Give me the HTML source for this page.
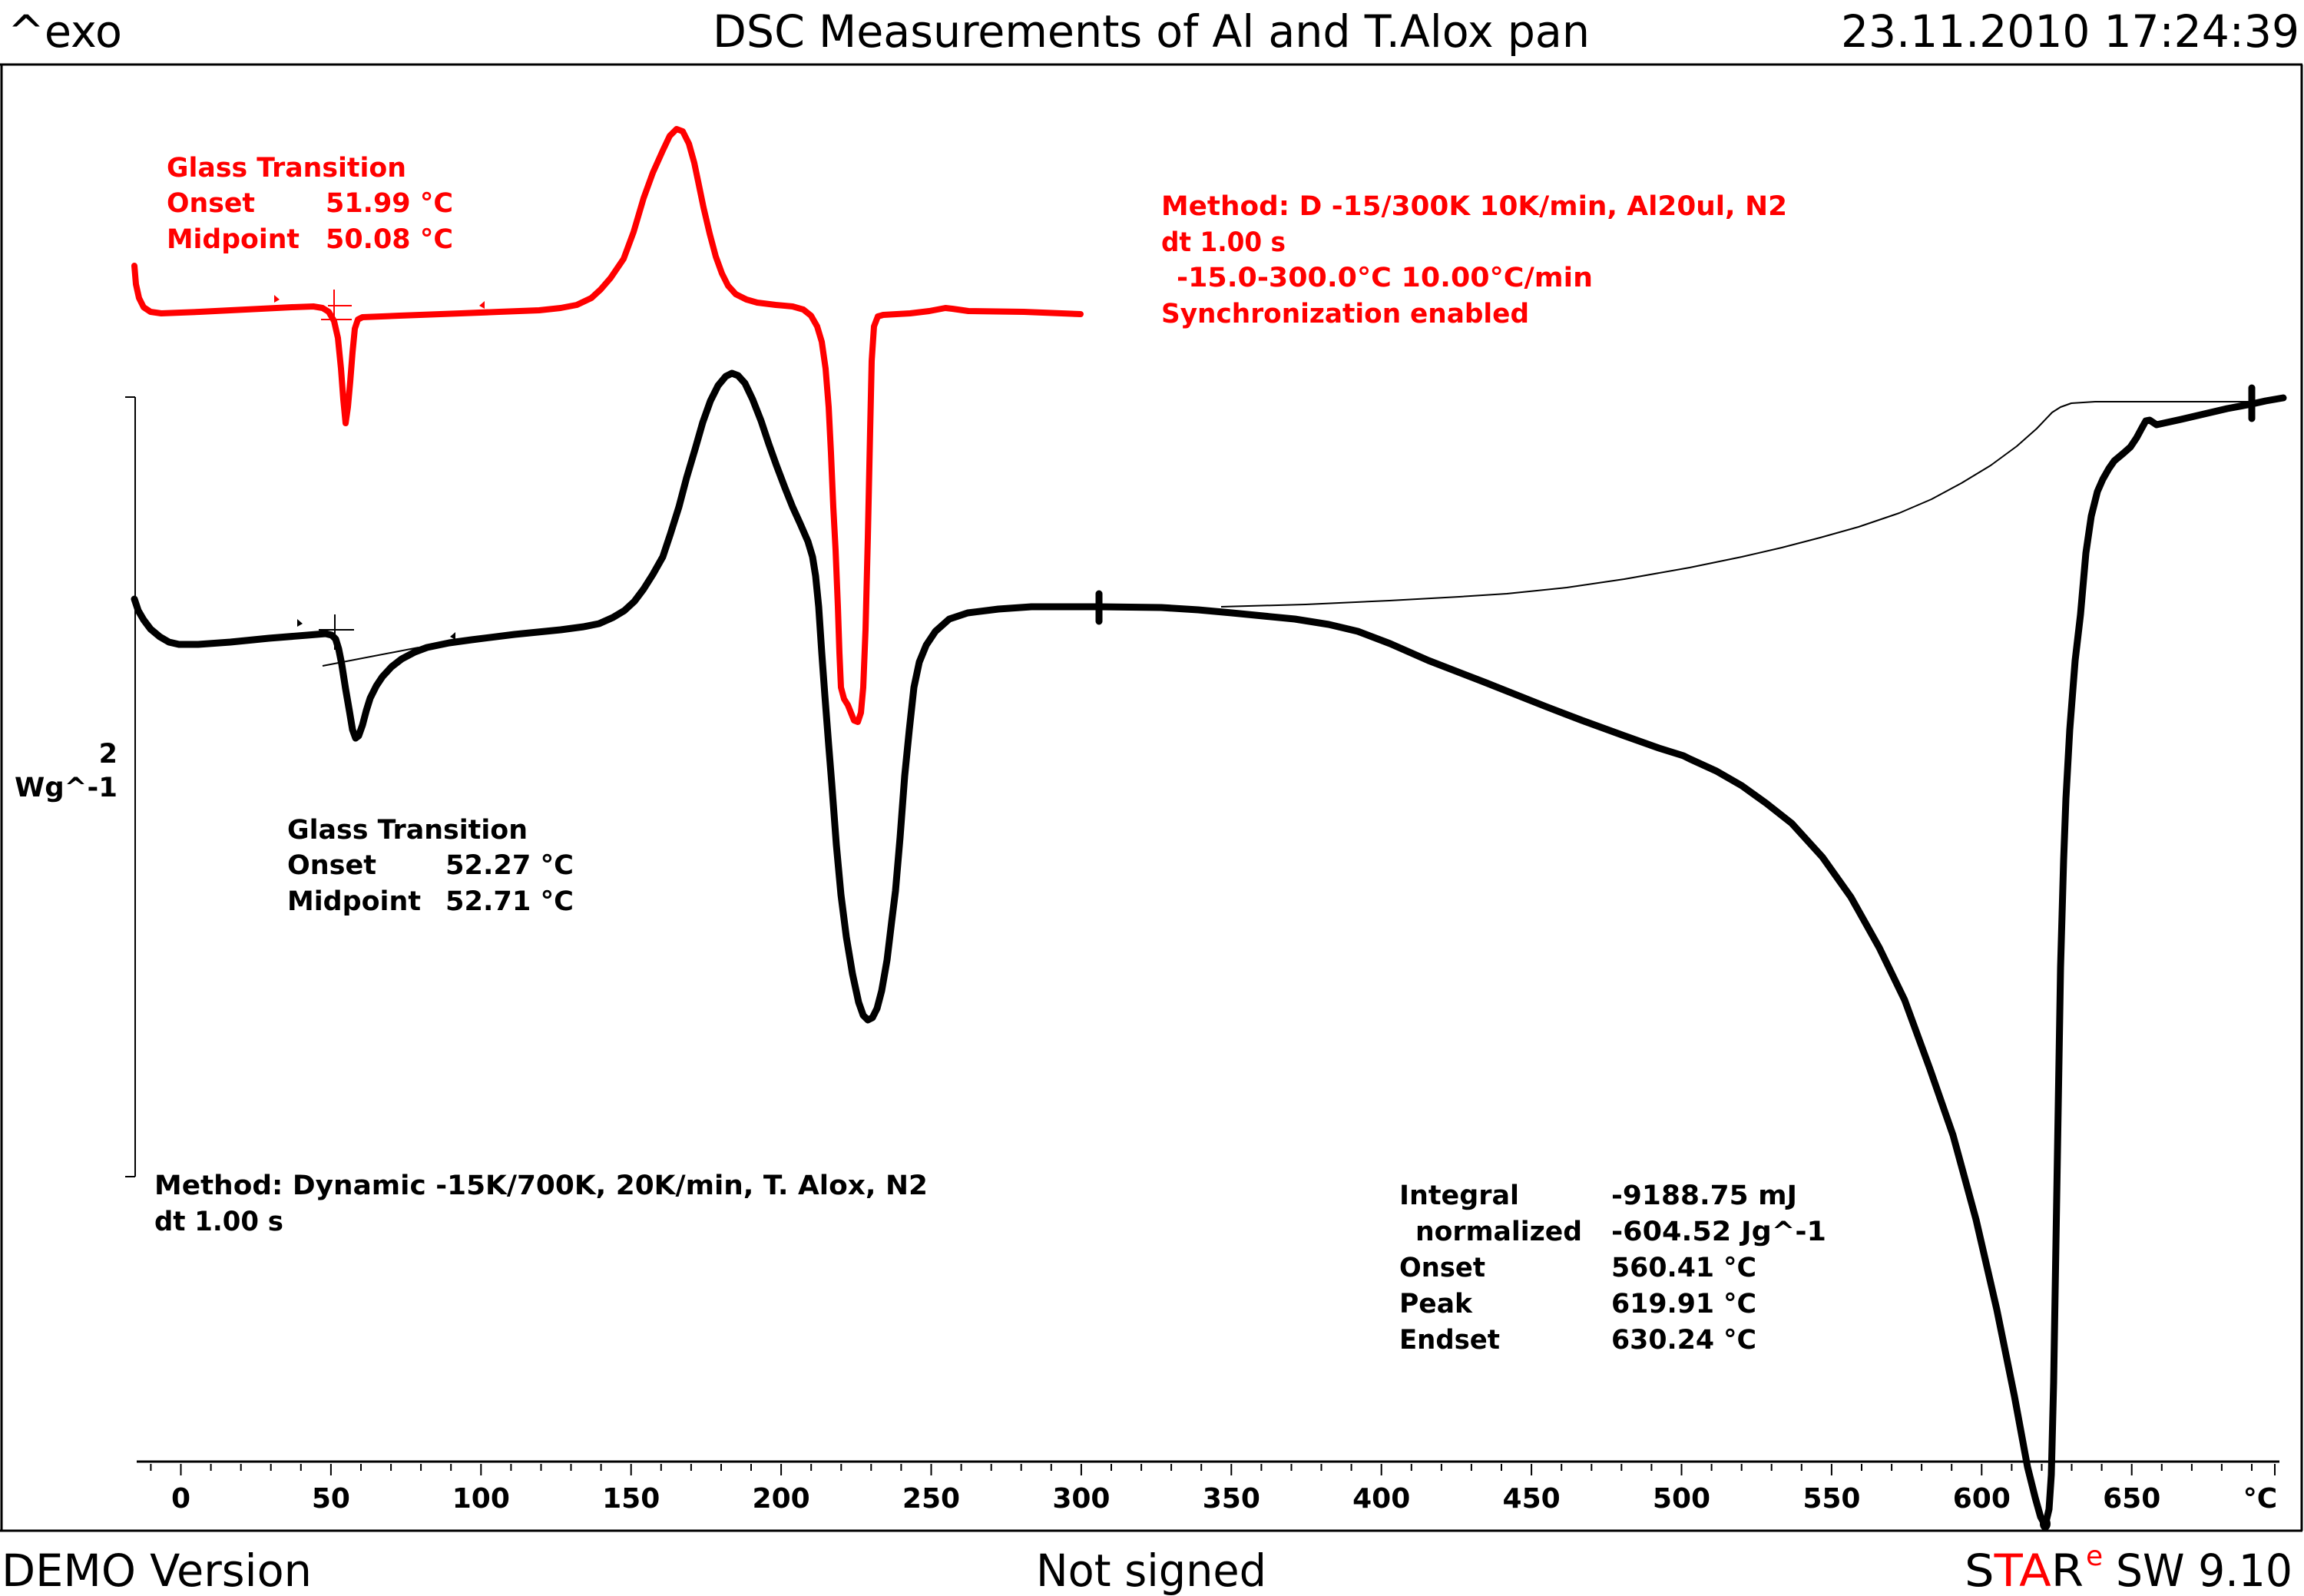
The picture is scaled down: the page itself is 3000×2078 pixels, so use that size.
<!DOCTYPE html>
<html>
<head>
<meta charset="utf-8">
<style>
html,body{margin:0;padding:0;background:#fff;}
svg{display:block;}
text{font-family:"DejaVu Sans","Liberation Sans",sans-serif;}
.b{font-weight:bold;font-size:35px;}
.r{fill:#ff0000;}
.k{fill:#000;}
.t{font-weight:bold;font-size:36px;text-anchor:middle;}
.h{font-size:58px;}
</style>
</head>
<body>
<svg width="3000" height="2078" viewBox="0 0 3000 2078" xmlns="http://www.w3.org/2000/svg">
<rect x="0" y="0" width="3000" height="2078" fill="#fff"/>

<!-- header -->
<text class="h" x="10" y="61" textLength="149" lengthAdjust="spacingAndGlyphs">^exo</text>
<text class="h" x="928" y="61" textLength="1142" lengthAdjust="spacingAndGlyphs">DSC Measurements of Al and T.Alox pan</text>
<text class="h" x="2397" y="61" textLength="597" lengthAdjust="spacingAndGlyphs">23.11.2010 17:24:39</text>

<!-- frame -->
<path d="M0,84 H2998 M2,84 V1993 M2997,84 V1993 M0,1993 H2998" stroke="#000" stroke-width="3" fill="none"/>

<!-- scale bar -->
<path d="M176,517 V1532 M163,517 H176 M163,1532 H176" stroke="#000" stroke-width="2" fill="none"/>
<text class="b" x="153" y="993" text-anchor="end">2</text>
<text class="b" x="19" y="1037" textLength="134" lengthAdjust="spacingAndGlyphs">Wg^-1</text>

<!-- x axis -->
<path d="M178,1903 H2968" stroke="#000" stroke-width="3" fill="none"/>
<path stroke="#000" stroke-width="2" fill="none" d="
M196.4,1906V1915 M235.5,1906V1921 M274.6,1906V1915 M313.7,1906V1915 M352.7,1906V1915 M391.8,1906V1915
M430.9,1906V1921 M470.0,1906V1915 M509.1,1906V1915 M548.1,1906V1915 M587.2,1906V1915
M626.3,1906V1921 M665.4,1906V1915 M704.5,1906V1915 M743.5,1906V1915 M782.6,1906V1915
M821.7,1906V1921 M860.8,1906V1915 M899.9,1906V1915 M939.0,1906V1915 M978.0,1906V1915
M1017.1,1906V1921 M1056.2,1906V1915 M1095.3,1906V1915 M1134.3,1906V1915 M1173.4,1906V1915
M1212.5,1906V1921 M1251.6,1906V1915 M1290.7,1906V1915 M1329.7,1906V1915 M1368.8,1906V1915
M1407.9,1906V1921 M1447.0,1906V1915 M1486.1,1906V1915 M1525.1,1906V1915 M1564.2,1906V1915
M1603.3,1906V1921 M1642.4,1906V1915 M1681.5,1906V1915 M1720.5,1906V1915 M1759.6,1906V1915
M1798.7,1906V1921 M1837.8,1906V1915 M1876.9,1906V1915 M1915.9,1906V1915 M1955.0,1906V1915
M1994.1,1906V1921 M2033.2,1906V1915 M2072.3,1906V1915 M2111.3,1906V1915 M2150.4,1906V1915
M2189.5,1906V1921 M2228.6,1906V1915 M2267.7,1906V1915 M2306.7,1906V1915 M2345.8,1906V1915
M2384.9,1906V1921 M2424.0,1906V1915 M2463.1,1906V1915 M2502.1,1906V1915 M2541.2,1906V1915
M2580.3,1906V1921 M2619.4,1906V1915 M2658.5,1906V1915 M2697.5,1906V1915 M2736.6,1906V1915
M2775.7,1906V1921 M2814.8,1906V1915 M2853.9,1906V1915 M2892.9,1906V1915 M2932.0,1906V1915
M2962,1906V1921"/>
<text class="t" x="235.5" y="1963">0</text>
<text class="t" x="430.9" y="1963">50</text>
<text class="t" x="626.3" y="1963">100</text>
<text class="t" x="821.7" y="1963">150</text>
<text class="t" x="1017.1" y="1963">200</text>
<text class="t" x="1212.5" y="1963">250</text>
<text class="t" x="1407.9" y="1963">300</text>
<text class="t" x="1603.3" y="1963">350</text>
<text class="t" x="1798.7" y="1963">400</text>
<text class="t" x="1994.1" y="1963">450</text>
<text class="t" x="2189.5" y="1963">500</text>
<text class="t" x="2384.9" y="1963">550</text>
<text class="t" x="2580.3" y="1963">600</text>
<text class="t" x="2775.7" y="1963">650</text>
<text class="t" x="2943" y="1963">°C</text>

<!-- thin baseline for integral -->
<polyline fill="none" stroke="#000" stroke-width="2" stroke-linejoin="round" points="1590,790 1700,787 1809,782 1900,777 1962,773 2040,765 2115,754 2200,739 2268,725 2320,713 2370,700 2420,686 2473,668 2515,650 2554,629 2592,606 2626,581 2652,558 2672,537 2683,530 2697,525 2728,523 2932,523"/>

<!-- black glass transition helper lines -->
<path d="M420,867 L545,843 M436,800 V846 M415,820 H461" stroke="#000" stroke-width="2" fill="none"/>
<polygon points="387,806 394,812 387,816" fill="#000"/>
<polygon points="593,823 586,829 593,833" fill="#000"/>

<!-- black curve -->
<polyline fill="none" stroke="#000" stroke-width="9" stroke-linejoin="round" stroke-linecap="round" points="175,780 180,795 187,807 196,819 208,829 220,836 233,839 258,839 300,836 350,831 400,827 424,825 432,827 437,832 441,845 445,865 450,897 455,926 459,950 463,961 467,958 472,944 477,925 482,909 490,893 498,881 510,868 523,858 540,849 556,843 585,837 614,833 670,826 730,820 760,816 780,812 798,804 813,795 826,783 838,767 850,748 863,725 873,695 884,660 894,622 905,585 915,550 925,522 935,502 945,490 953,486 961,489 970,499 980,520 991,548 1001,578 1011,606 1022,635 1032,660 1042,682 1052,705 1058,725 1062,750 1066,790 1070,850 1074,905 1079,970 1083,1020 1089,1100 1095,1165 1102,1220 1110,1268 1118,1305 1124,1322 1130,1328 1136,1325 1142,1313 1148,1290 1155,1250 1161,1200 1166,1160 1172,1090 1178,1010 1184,950 1190,895 1197,862 1206,840 1218,822 1236,806 1260,798 1300,793 1343,790 1431,790 1512,791 1560,794 1604,798 1686,806 1730,813 1768,822 1810,838 1860,860 1935,889 2013,920 2060,938 2115,958 2160,974 2192,984 2200,988 2235,1004 2268,1023 2300,1046 2333,1072 2373,1116 2410,1168 2447,1234 2480,1302 2513,1392 2543,1478 2573,1588 2600,1705 2623,1818 2640,1910 2650,1950 2657,1975 2663,1986 2668,1965 2671,1920 2674,1800 2677,1620 2680,1440 2683,1260 2687,1120 2690,1040 2695,950 2702,860 2709,800 2716,720 2723,672 2731,640 2738,624 2746,610 2753,600 2765,590 2774,582 2782,570 2789,557 2794,548 2799,547 2808,553 2840,546 2870,539 2900,532 2932,526 2950,522 2973,518"/>
<!-- black markers -->
<path d="M1431,773 V809 M2932,505 V545" stroke="#000" stroke-width="9" stroke-linecap="round" fill="none"/>
<ellipse cx="2663" cy="1984" rx="7" ry="9" fill="#000"/>

<!-- red helper lines -->
<path d="M435,377 V417 M427,398 H458 M418,416 H458" stroke="#ff0000" stroke-width="2" fill="none"/>
<polygon points="357,384 364,390 357,394" fill="#ff0000"/>
<polygon points="631,392 624,398 631,402" fill="#ff0000"/>

<!-- red curve -->
<polyline fill="none" stroke="#ff0000" stroke-width="8" stroke-linejoin="round" stroke-linecap="round" points="175,346 177,370 181,388 187,400 196,406 210,408 260,406 320,403 380,400 408,399 420,401 428,406 435,418 440,440 444,480 447,520 450,551 453,530 456,497 459,459 462,428 466,416 472,413 520,411 600,408 650,406 702,404 730,401 751,397 770,388 782,377 795,362 812,337 825,302 838,258 850,225 863,196 872,177 881,168 889,171 897,187 904,212 909,236 916,270 924,304 932,334 940,356 948,372 958,383 972,390 986,394 1010,397 1032,399 1046,403 1056,411 1064,425 1070,445 1075,480 1079,530 1082,590 1085,660 1088,716 1091,790 1093,850 1095,895 1099,910 1104,918 1108,928 1112,938 1117,940 1121,928 1124,895 1127,820 1130,700 1133,560 1135,470 1138,425 1143,412 1150,410 1185,408 1210,405 1231,401 1240,402 1261,405 1333,406 1407,409"/>

<!-- red glass transition text -->
<text class="b r" x="217" y="230" textLength="312" lengthAdjust="spacingAndGlyphs">Glass Transition</text>
<text class="b r" x="217" y="276" textLength="115" lengthAdjust="spacingAndGlyphs">Onset</text>
<text class="b r" x="424" y="276" textLength="166" lengthAdjust="spacingAndGlyphs">51.99 °C</text>
<text class="b r" x="217" y="323" textLength="173" lengthAdjust="spacingAndGlyphs">Midpoint</text>
<text class="b r" x="424" y="323" textLength="166" lengthAdjust="spacingAndGlyphs">50.08 °C</text>

<!-- red method text -->
<text class="b r" x="1512" y="280" textLength="815" lengthAdjust="spacingAndGlyphs">Method: D -15/300K 10K/min, Al20ul, N2</text>
<text class="b r" x="1512" y="327" textLength="162" lengthAdjust="spacingAndGlyphs">dt 1.00 s</text>
<text class="b r" x="1532" y="373" textLength="542" lengthAdjust="spacingAndGlyphs">-15.0-300.0°C 10.00°C/min</text>
<text class="b r" x="1512" y="420" textLength="479" lengthAdjust="spacingAndGlyphs">Synchronization enabled</text>

<!-- black glass transition text -->
<text class="b k" x="374" y="1092" textLength="313" lengthAdjust="spacingAndGlyphs">Glass Transition</text>
<text class="b k" x="374" y="1138" textLength="116" lengthAdjust="spacingAndGlyphs">Onset</text>
<text class="b k" x="580" y="1138" textLength="167" lengthAdjust="spacingAndGlyphs">52.27 °C</text>
<text class="b k" x="374" y="1185" textLength="174" lengthAdjust="spacingAndGlyphs">Midpoint</text>
<text class="b k" x="580" y="1185" textLength="167" lengthAdjust="spacingAndGlyphs">52.71 °C</text>

<!-- black method text -->
<text class="b k" x="201" y="1555" textLength="1007" lengthAdjust="spacingAndGlyphs">Method: Dynamic -15K/700K, 20K/min, T. Alox, N2</text>
<text class="b k" x="201" y="1602" textLength="168" lengthAdjust="spacingAndGlyphs">dt 1.00 s</text>

<!-- integral block -->
<text class="b k" x="1822" y="1568" textLength="156" lengthAdjust="spacingAndGlyphs">Integral</text>
<text class="b k" x="2098" y="1568" textLength="242" lengthAdjust="spacingAndGlyphs">-9188.75 mJ</text>
<text class="b k" x="1843" y="1615" textLength="217" lengthAdjust="spacingAndGlyphs">normalized</text>
<text class="b k" x="2098" y="1615" textLength="280" lengthAdjust="spacingAndGlyphs">-604.52 Jg^-1</text>
<text class="b k" x="1822" y="1662" textLength="112" lengthAdjust="spacingAndGlyphs">Onset</text>
<text class="b k" x="2098" y="1662" textLength="189" lengthAdjust="spacingAndGlyphs">560.41 °C</text>
<text class="b k" x="1822" y="1709" textLength="95" lengthAdjust="spacingAndGlyphs">Peak</text>
<text class="b k" x="2098" y="1709" textLength="189" lengthAdjust="spacingAndGlyphs">619.91 °C</text>
<text class="b k" x="1822" y="1756" textLength="131" lengthAdjust="spacingAndGlyphs">Endset</text>
<text class="b k" x="2098" y="1756" textLength="189" lengthAdjust="spacingAndGlyphs">630.24 °C</text>

<!-- footer -->
<text class="h" x="2" y="2065" textLength="404" lengthAdjust="spacingAndGlyphs">DEMO Version</text>
<text class="h" x="1349" y="2065" textLength="300" lengthAdjust="spacingAndGlyphs">Not signed</text>
<text class="h" x="2558" y="2065" textLength="155" lengthAdjust="spacingAndGlyphs"><tspan fill="#000">S</tspan><tspan fill="#ff0000">TA</tspan><tspan fill="#000">R</tspan></text>
<text x="2716" y="2038" font-size="36" fill="#ff0000">e</text>
<text class="h" x="2755" y="2065" textLength="230" lengthAdjust="spacingAndGlyphs">SW 9.10</text>
</svg>
</body>
</html>
